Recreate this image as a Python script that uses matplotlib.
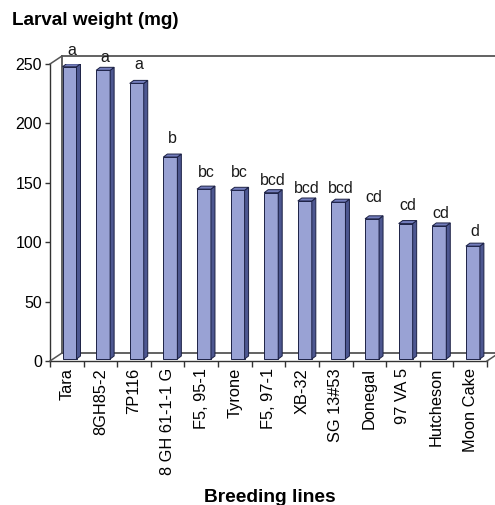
import matplotlib
matplotlib.use("Agg")
import matplotlib.pyplot as plt
from matplotlib.patches import Polygon
from matplotlib.lines import Line2D
from matplotlib.transforms import ScaledTranslation
import numpy as np

plt.rcParams['font.family'] = ['Liberation Sans', 'DejaVu Sans']

lines = ["Tara", "8GH85-2", "7P116", "8 GH 61-1-1 G", "F5, 95-1", "Tyrone",
         "F5, 97-1", "XB-32", "SG 13#53", "Donegal", "97 VA 5", "Hutcheson", "Moon Cake"]
weights = [246, 243, 232, 170, 143, 142, 140, 133, 132, 118, 114, 112, 95]
letters = ["a", "a", "a", "b", "bc", "bc", "bcd", "bcd", "bcd", "cd", "cd", "cd", "d"]
letter_levels = [257.6, 251.7, 245.8, 183.8, 154.9, 154.9, 148.4, 141.6, 141.6, 133.8, 127.4, 120.4, 105.2]
yticks = [0, 50, 100, 150, 200, 250]

W, H = 495, 505
fig = plt.figure(figsize=(W / 100, H / 100), dpi=100)
ax_l, ax_r, ax_b, ax_t = 50, 487, 361, 64
ax = fig.add_axes([ax_l / W, (H - ax_b) / H, (ax_r - ax_l) / W, (ax_b - ax_t) / H])
n = len(lines)
ax.set_xlim(-0.5, n - 0.5)
ax.set_ylim(0, 250)

pxx = (ax_r - ax_l) / n       # pixels per category unit
pxy = (ax_b - ax_t) / 250.0   # pixels per mg

# bar geometry (pixels)
shift_x, shift_y = 2.7, 2.0
bar_w = 14.0
ddx_px, ddy_px = 4.0, 3.0
sx = shift_x / pxx
b0 = shift_y / pxy
bw = bar_w / pxx
ddx = ddx_px / pxx
ddy = ddy_px / pxy

front_c = '#99a2d4'
side_c = '#4d5790'
top_c = '#737dbc'
edge_c = '#1c2145'

x = np.arange(n)
ax.bar(x + sx, weights, width=bw, bottom=b0, color=front_c, edgecolor=edge_c,
       linewidth=0.7, zorder=3)
for xi, v in zip(x, weights):
    xl = xi + sx - bw / 2
    xr = xi + sx + bw / 2
    top = b0 + v
    side = Polygon([(xr, b0), (xr + ddx, b0 + ddy), (xr + ddx, top + ddy), (xr, top)],
                   closed=True, facecolor=side_c, edgecolor=edge_c, linewidth=0.7, zorder=3)
    topf = Polygon([(xl, top), (xr, top), (xr + ddx, top + ddy), (xl + ddx, top + ddy)],
                   closed=True, facecolor=top_c, edgecolor=edge_c, linewidth=0.7, zorder=4)
    ax.add_patch(side)
    ax.add_patch(topf)

for xi, lab, lv in zip(x, letters, letter_levels):
    ax.text(xi + sx + ddx / 2, lv, lab, ha='center', va='baseline', fontsize=11.5,
            color='#1a1a1a', clip_on=False)

# axes styling
for s in ['top', 'right']:
    ax.spines[s].set_visible(False)
ax.spines['left'].set_color('#333333')
ax.spines['bottom'].set_color('#333333')
ax.spines['left'].set_linewidth(1.0)
ax.spines['bottom'].set_linewidth(1.0)
ax.set_yticks(yticks)
ax.set_yticklabels([str(t) for t in yticks], fontsize=11.5)
ax.tick_params(axis='y', direction='out', length=3.6, width=1.0, pad=2.2, color='#333333')
ax.set_xticks(x)
ax.set_xticklabels(lines, rotation=90, fontsize=11.8, va='top', ha='center')
ax.set_xticks(np.arange(-0.5, n, 1.0), minor=True)
ax.tick_params(axis='x', which='major', length=0, pad=5)
ax.tick_params(axis='x', which='minor', direction='out', length=4.5, width=1.0, color='#333333')

# back wall / floor (3D frame)
off = ax.transAxes + ScaledTranslation(12 / 100, 8 / 100, fig.dpi_scale_trans)
wall_kw = dict(color='#555555', linewidth=1.3, clip_on=False, zorder=1)
ax.add_line(Line2D([0, 0], [0, 1], transform=off, **wall_kw))
ax.add_line(Line2D([0, 1.05], [1, 1], transform=off, **wall_kw))
ax.add_line(Line2D([0, 1.05], [0, 0], transform=off, **wall_kw))
# diagonals joining the front frame to the back wall
for (xa, ya) in [(0, 0), (0, 1), (1, 0)]:
    p0 = ax.transAxes.transform((xa, ya))
    p1 = off.transform((xa, ya))
    fig.add_artist(Line2D([p0[0] / W, p1[0] / W], [p0[1] / H, p1[1] / H],
                          transform=fig.transFigure, color='#555555', linewidth=1.1))

fig.text(12 / W, 1 - 25 / H, "Larval weight (mg)", fontsize=13.6, fontweight='bold',
         ha='left', va='baseline')
fig.text(270 / W, 1 - 502 / H, "Breeding lines", fontsize=13.8, fontweight='bold',
         ha='center', va='baseline')

fig.savefig("out.png", dpi=100)
